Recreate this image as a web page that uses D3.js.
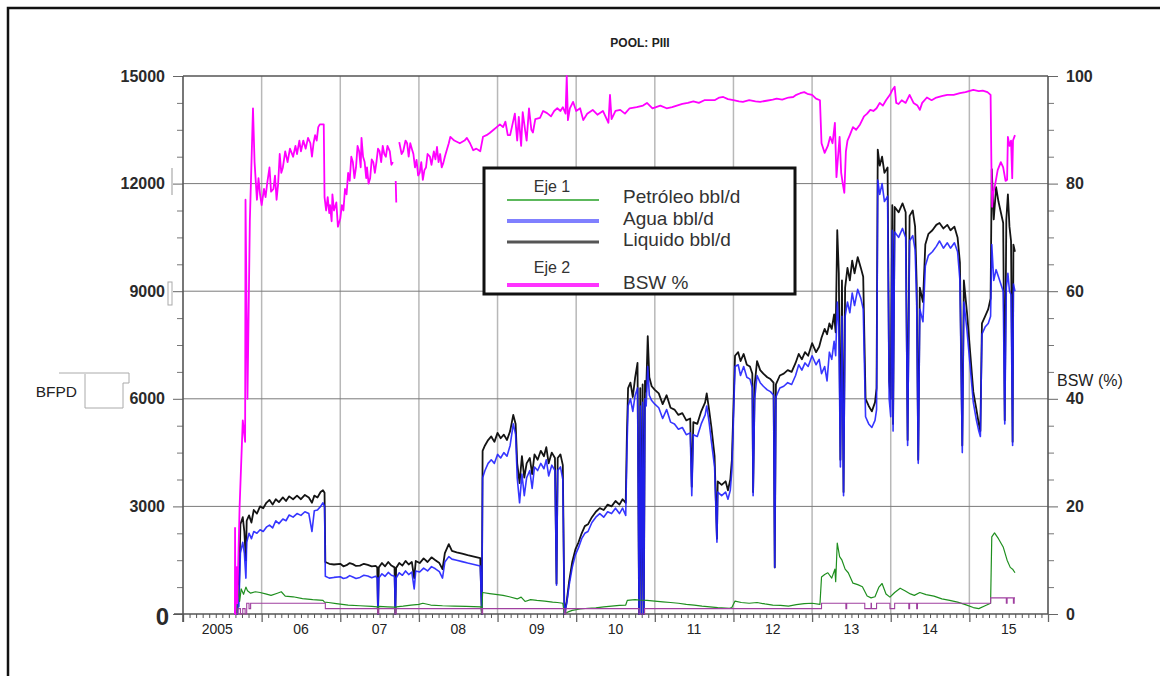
<!DOCTYPE html>
<html lang="es">
<head>
<meta charset="utf-8">
<title>POOL: PIII</title>
<script src="https://cdn.jsdelivr.net/npm/d3@7"></script>
<style>
  html, body { margin: 0; padding: 0; background: #fff; }
  svg { display: block; font-family: "Liberation Sans", Arial, sans-serif; }
</style>
</head>
<body>
<svg id="grafico" width="1160" height="676"></svg>
<script>
// Datos: [año decimal, valor]
var liquido = [[2005.66,0],[2005.69,0],[2005.70,1300],[2005.71,500],[2005.73,2500],[2005.76,2700],[2005.78,2300],[2005.80,1500],[2005.81,2600],[2005.84,2750],[2005.87,2550],[2005.90,2900],[2005.94,2800],[2005.98,3000],[2006.02,2950],[2006.06,3100],[2006.10,3180],[2006.14,3050],[2006.18,3200],[2006.22,3120],[2006.27,3250],[2006.31,3150],[2006.35,3280],[2006.40,3200],[2006.45,3300],[2006.50,3200],[2006.55,3320],[2006.60,3250],[2006.64,3100],[2006.67,3300],[2006.71,3250],[2006.75,3400],[2006.78,3450],[2006.80,3380],[2006.81,1450],[2006.86,1400],[2006.92,1380],[2007.00,1400],[2007.04,1330],[2007.08,1360],[2007.12,1420],[2007.16,1390],[2007.20,1340],[2007.25,1350],[2007.30,1400],[2007.35,1370],[2007.40,1330],[2007.45,1340],[2007.47,1300],[2007.48,0],[2007.49,1300],[2007.53,1420],[2007.57,1330],[2007.61,1450],[2007.65,1350],[2007.69,1300],[2007.70,0],[2007.71,1280],[2007.75,1420],[2007.79,1350],[2007.83,1480],[2007.87,1380],[2007.91,1450],[2007.94,1000],[2007.96,1480],[2008.01,1420],[2008.06,1550],[2008.11,1450],[2008.16,1580],[2008.21,1500],[2008.26,1420],[2008.30,1250],[2008.33,1700],[2008.38,1950],[2008.42,1760],[2008.48,1720],[2008.55,1680],[2008.62,1640],[2008.70,1600],[2008.78,1560],[2008.80,0],[2008.81,4550],[2008.84,4700],[2008.88,4850],[2008.92,4950],[2008.96,4800],[2009.00,5050],[2009.04,4900],[2009.08,5000],[2009.12,4850],[2009.16,5100],[2009.20,5550],[2009.23,5300],[2009.25,4200],[2009.28,3650],[2009.31,4400],[2009.34,3800],[2009.37,4200],[2009.41,4350],[2009.44,3900],[2009.47,4450],[2009.51,4300],[2009.55,4550],[2009.59,4400],[2009.62,4650],[2009.65,4200],[2009.69,4500],[2009.73,4350],[2009.75,850],[2009.765,4350],[2009.80,4450],[2009.83,4150],[2009.85,0],[2009.88,350],[2009.91,900],[2009.95,1450],[2009.99,1800],[2010.03,2000],[2010.07,2250],[2010.11,2450],[2010.15,2500],[2010.20,2700],[2010.25,2850],[2010.30,2950],[2010.35,2900],[2010.40,3050],[2010.45,3000],[2010.50,3150],[2010.55,3050],[2010.59,3200],[2010.63,3100],[2010.645,5000],[2010.66,6300],[2010.69,6450],[2010.72,6050],[2010.75,6600],[2010.78,7000],[2010.80,0],[2010.815,6300],[2010.83,0],[2010.845,6400],[2010.86,0],[2010.875,6500],[2010.89,6200],[2010.91,7750],[2010.93,6600],[2010.96,6350],[2011.00,6250],[2011.05,6150],[2011.10,5850],[2011.15,6100],[2011.20,5750],[2011.25,5700],[2011.30,5550],[2011.35,5600],[2011.40,5400],[2011.45,5450],[2011.47,3550],[2011.49,5350],[2011.54,5300],[2011.59,5650],[2011.64,5900],[2011.66,6150],[2011.69,5700],[2011.72,5200],[2011.76,4400],[2011.79,2100],[2011.80,3700],[2011.85,3600],[2011.90,3700],[2011.93,3450],[2011.96,3750],[2011.98,4300],[2012.02,7200],[2012.06,7300],[2012.09,7050],[2012.13,7250],[2012.17,6950],[2012.21,6900],[2012.24,6700],[2012.25,3400],[2012.27,6400],[2012.30,7050],[2012.34,6800],[2012.38,6700],[2012.43,6600],[2012.47,6550],[2012.51,6450],[2012.525,1300],[2012.54,6400],[2012.59,6650],[2012.64,6700],[2012.69,6800],[2012.74,6750],[2012.79,7000],[2012.83,7250],[2012.87,7100],[2012.91,7300],[2012.95,7200],[2013.00,7550],[2013.05,7300],[2013.09,7450],[2013.12,7700],[2013.16,7950],[2013.19,7800],[2013.22,8100],[2013.25,7950],[2013.28,8350],[2013.30,7850],[2013.32,10700],[2013.34,9500],[2013.36,4300],[2013.38,9300],[2013.40,3400],[2013.42,9100],[2013.45,9650],[2013.48,9300],[2013.51,9850],[2013.54,9500],[2013.58,9950],[2013.62,9650],[2013.65,9400],[2013.68,6000],[2013.72,5800],[2013.76,5650],[2013.80,5900],[2013.82,6300],[2013.835,12950],[2013.86,12500],[2013.89,12750],[2013.92,12300],[2013.96,12450],[2013.98,6500],[2014.00,6000],[2014.02,11400],[2014.03,5300],[2014.05,11350],[2014.10,11200],[2014.15,11450],[2014.19,11200],[2014.215,4850],[2014.24,11100],[2014.28,11250],[2014.31,10800],[2014.33,9200],[2014.35,4300],[2014.37,9100],[2014.41,8700],[2014.44,10300],[2014.48,10600],[2014.53,10700],[2014.58,10850],[2014.62,10900],[2014.67,10750],[2014.72,10850],[2014.76,10700],[2014.81,10800],[2014.85,10500],[2014.88,9800],[2014.91,4700],[2014.93,9300],[2014.97,8400],[2015.01,7300],[2015.05,6200],[2015.09,5700],[2015.12,5300],[2015.14,5100],[2015.16,8100],[2015.20,8300],[2015.24,8500],[2015.27,8800],[2015.285,12400],[2015.31,11000],[2015.34,11900],[2015.37,11500],[2015.40,11200],[2015.43,10900],[2015.45,5400],[2015.47,11000],[2015.49,11700],[2015.51,10800],[2015.53,10400],[2015.55,4800],[2015.56,10300],[2015.58,10100]];

var agua = [[2005.66,0],[2005.69,0],[2005.70,500],[2005.71,200],[2005.73,1700],[2005.76,2000],[2005.78,1700],[2005.80,1000],[2005.81,2000],[2005.84,2250],[2005.87,2100],[2005.90,2300],[2005.94,2250],[2005.98,2350],[2006.02,2300],[2006.06,2420],[2006.10,2480],[2006.14,2400],[2006.18,2600],[2006.22,2520],[2006.27,2650],[2006.31,2600],[2006.35,2760],[2006.40,2700],[2006.45,2800],[2006.50,2750],[2006.55,2850],[2006.60,2800],[2006.64,2300],[2006.67,2880],[2006.71,2900],[2006.75,3000],[2006.78,3100],[2006.80,3000],[2006.81,1050],[2006.86,1000],[2006.92,1020],[2007.00,1040],[2007.04,990],[2007.08,1010],[2007.12,1070],[2007.16,1030],[2007.20,990],[2007.25,1020],[2007.30,1080],[2007.35,1060],[2007.40,1010],[2007.45,1050],[2007.47,1000],[2007.48,0],[2007.49,1000],[2007.53,1120],[2007.57,1050],[2007.61,1160],[2007.65,1080],[2007.69,1050],[2007.70,0],[2007.71,1000],[2007.75,1150],[2007.79,1080],[2007.83,1200],[2007.87,1100],[2007.91,1170],[2007.94,700],[2007.96,1200],[2008.01,1170],[2008.06,1280],[2008.11,1200],[2008.16,1320],[2008.21,1260],[2008.26,1180],[2008.30,1000],[2008.33,1450],[2008.38,1600],[2008.42,1530],[2008.48,1500],[2008.55,1460],[2008.62,1420],[2008.70,1380],[2008.78,1340],[2008.80,0],[2008.81,3800],[2008.84,4000],[2008.88,4200],[2008.92,4300],[2008.96,4200],[2009.00,4450],[2009.04,4350],[2009.08,4500],[2009.12,4400],[2009.16,4700],[2009.20,5300],[2009.23,5000],[2009.25,3800],[2009.28,3100],[2009.31,3900],[2009.34,3300],[2009.37,3800],[2009.41,4000],[2009.44,3500],[2009.47,4100],[2009.51,4000],[2009.55,4200],[2009.59,4050],[2009.62,4300],[2009.65,3850],[2009.69,4150],[2009.73,4000],[2009.75,800],[2009.765,4000],[2009.80,4100],[2009.83,3750],[2009.85,0],[2009.88,300],[2009.91,800],[2009.95,1300],[2009.99,1650],[2010.03,1850],[2010.07,2100],[2010.11,2250],[2010.15,2300],[2010.20,2550],[2010.25,2700],[2010.30,2800],[2010.35,2700],[2010.40,2850],[2010.45,2800],[2010.50,2950],[2010.55,2800],[2010.59,2950],[2010.63,2750],[2010.645,4500],[2010.66,5800],[2010.69,6000],[2010.72,5650],[2010.75,6100],[2010.78,6300],[2010.80,0],[2010.815,5800],[2010.83,0],[2010.845,5900],[2010.86,0],[2010.875,6000],[2010.89,5800],[2010.91,6900],[2010.93,6100],[2010.96,5950],[2011.00,5850],[2011.05,5750],[2011.10,5450],[2011.15,5700],[2011.20,5350],[2011.25,5300],[2011.30,5150],[2011.35,5200],[2011.40,5000],[2011.45,5050],[2011.47,3300],[2011.49,5000],[2011.54,4950],[2011.59,5300],[2011.64,5550],[2011.66,5800],[2011.69,5350],[2011.72,4800],[2011.76,4100],[2011.79,2000],[2011.80,3400],[2011.85,3300],[2011.90,3400],[2011.93,3200],[2011.96,3450],[2011.98,4000],[2012.02,6900],[2012.06,6950],[2012.09,6650],[2012.13,6900],[2012.17,6600],[2012.21,6550],[2012.24,6300],[2012.25,3300],[2012.27,6000],[2012.30,6650],[2012.34,6450],[2012.38,6350],[2012.43,6250],[2012.47,6200],[2012.51,6100],[2012.525,1300],[2012.54,6050],[2012.59,6300],[2012.64,6350],[2012.69,6450],[2012.74,6400],[2012.79,6650],[2012.83,6950],[2012.87,6800],[2012.91,7000],[2012.95,6900],[2013.00,7200],[2013.05,6950],[2013.09,7100],[2013.12,6700],[2013.16,6900],[2013.19,6500],[2013.22,7300],[2013.25,7100],[2013.28,7600],[2013.30,7200],[2013.32,8700],[2013.34,8000],[2013.36,4100],[2013.38,8300],[2013.40,3300],[2013.42,8300],[2013.45,8700],[2013.48,8400],[2013.51,8950],[2013.54,8600],[2013.58,9050],[2013.62,8800],[2013.65,8500],[2013.68,5500],[2013.72,5300],[2013.76,5200],[2013.80,5400],[2013.82,5700],[2013.835,12100],[2013.86,11700],[2013.89,12000],[2013.92,11500],[2013.96,11650],[2013.98,6000],[2014.00,5500],[2014.02,10700],[2014.03,5100],[2014.05,10650],[2014.10,10500],[2014.15,10750],[2014.19,10500],[2014.215,4700],[2014.24,10400],[2014.28,10550],[2014.31,10150],[2014.33,8700],[2014.35,4200],[2014.37,8500],[2014.41,8150],[2014.44,9700],[2014.48,10000],[2014.53,10100],[2014.58,10250],[2014.62,10400],[2014.67,10200],[2014.72,10350],[2014.76,10200],[2014.81,10350],[2014.85,10100],[2014.88,9300],[2014.91,4500],[2014.93,8700],[2014.97,7900],[2015.01,6900],[2015.05,5900],[2015.09,5400],[2015.12,5100],[2015.14,4950],[2015.16,7800],[2015.20,8000],[2015.24,8100],[2015.27,8300],[2015.285,10300],[2015.31,9300],[2015.34,9600],[2015.37,9400],[2015.40,9200],[2015.43,9000],[2015.45,5300],[2015.47,9100],[2015.49,9500],[2015.51,9000],[2015.53,8900],[2015.55,4700],[2015.56,9200],[2015.58,9000]];

var petroleo = [[2005.66,0],[2005.68,0],[2005.70,800],[2005.72,350],[2005.74,700],[2005.77,550],[2005.80,750],[2005.82,650],[2005.86,580],[2005.92,620],[2005.98,600],[2006.05,560],[2006.12,520],[2006.20,580],[2006.25,620],[2006.30,500],[2006.40,480],[2006.52,430],[2006.65,400],[2006.78,380],[2006.80,330],[2006.85,320],[2006.95,290],[2007.10,250],[2007.25,230],[2007.40,210],[2007.47,200],[2007.48,0],[2007.49,210],[2007.60,200],[2007.69,190],[2007.70,0],[2007.71,200],[2007.80,220],[2007.90,250],[2008.00,270],[2008.05,300],[2008.15,250],[2008.30,230],[2008.45,220],[2008.60,210],[2008.79,200],[2008.80,0],[2008.81,600],[2008.90,570],[2009.00,540],[2009.07,520],[2009.15,480],[2009.25,420],[2009.30,470],[2009.35,350],[2009.42,400],[2009.50,380],[2009.60,360],[2009.70,330],[2009.76,320],[2009.83,300],[2009.85,0],[2009.90,60],[2009.95,100],[2010.05,140],[2010.15,160],[2010.25,170],[2010.35,200],[2010.45,220],[2010.55,240],[2010.63,250],[2010.65,380],[2010.75,400],[2010.80,390],[2010.90,380],[2011.00,360],[2011.10,340],[2011.20,320],[2011.30,300],[2011.40,270],[2011.50,250],[2011.60,220],[2011.70,200],[2011.80,180],[2011.95,160],[2011.98,180],[2012.02,360],[2012.10,320],[2012.20,300],[2012.30,320],[2012.40,280],[2012.50,250],[2012.60,240],[2012.70,220],[2012.80,260],[2012.90,290],[2013.00,300],[2013.10,270],[2013.12,1030],[2013.16,1100],[2013.20,1150],[2013.25,1000],[2013.29,1250],[2013.30,900],[2013.32,1980],[2013.35,1600],[2013.38,1500],[2013.42,1250],[2013.46,1150],[2013.52,860],[2013.58,820],[2013.64,760],[2013.70,500],[2013.75,450],[2013.80,480],[2013.85,750],[2013.89,850],[2013.94,560],[2013.99,470],[2014.05,600],[2014.12,720],[2014.18,650],[2014.25,560],[2014.30,520],[2014.37,600],[2014.45,540],[2014.55,500],[2014.65,420],[2014.75,380],[2014.85,330],[2014.95,260],[2015.05,180],[2015.12,150],[2015.20,230],[2015.27,300],[2015.285,2150],[2015.32,2260],[2015.37,2100],[2015.43,1870],[2015.48,1500],[2015.52,1300],[2015.55,1250],[2015.58,1150]];

// BSW en % (eje 2); null = hueco en la serie
var bsw = [[2005.66,0],[2005.662,16],[2005.667,0],[2005.68,8.7],[2005.69,2],[2005.72,20],[2005.76,36],[2005.79,32],[2005.795,77],[2005.82,40],[2005.85,73],[2005.89,94],[2005.91,84],[2005.94,77],[2005.96,81],[2005.98,78],[2006.00,76],[2006.03,79],[2006.05,77.5],[2006.07,80],[2006.10,83],[2006.12,78.5],[2006.15,79],[2006.17,81.5],[2006.19,77],[2006.21,80],[2006.23,85.5],[2006.25,82],[2006.27,83],[2006.30,86],[2006.33,84],[2006.36,86.5],[2006.40,85],[2006.43,87],[2006.45,85.5],[2006.48,88],[2006.50,86],[2006.53,88],[2006.56,86.5],[2006.59,88.5],[2006.62,87.5],[2006.64,85],[2006.66,87.5],[2006.68,89],[2006.70,88],[2006.72,90.5],[2006.74,91],[2006.79,91],[2006.80,77.5],[2006.82,75],[2006.84,77.5],[2006.86,74.5],[2006.87,76],[2006.89,73],[2006.90,78],[2006.92,75],[2006.95,76.5],[2006.97,72],[2007.00,73.5],[2007.02,76],[2007.04,75],[2007.06,79],[2007.08,78],[2007.10,82],[2007.12,80.5],[2007.14,85],[2007.16,84],[2007.18,81],[2007.20,83],[2007.22,87],[2007.24,86],[2007.26,83],[2007.27,88.5],[2007.29,85],[2007.31,84],[2007.33,81],[2007.34,83],[2007.36,80],[2007.38,81],[2007.40,84.5],[2007.42,84],[2007.44,82],[2007.46,84],[2007.48,86.5],[2007.50,86],[2007.52,84],[2007.54,87],[2007.56,85.5],[2007.58,85],[2007.60,87],[2007.63,86],[2007.65,83.5],[2007.67,84],[2007.69,null],[2007.705,80.5],[2007.712,76.5],[2007.72,null],[2007.75,87.7],[2007.78,85.5],[2007.80,86],[2007.83,88],[2007.85,87.5],[2007.87,85],[2007.89,87.5],[2007.91,86.5],[2007.93,85.5],[2007.95,83],[2007.97,84.4],[2007.99,81.5],[2008.01,82],[2008.03,84],[2008.05,80.7],[2008.07,82.5],[2008.09,83],[2008.11,85.5],[2008.14,85],[2008.16,83.5],[2008.19,86],[2008.21,84.5],[2008.23,86.8],[2008.25,84],[2008.27,85.5],[2008.29,83],[2008.31,83.8],[2008.33,85],[2008.35,86],[2008.38,87.5],[2008.40,88.7],[2008.45,88],[2008.52,87.5],[2008.58,88],[2008.61,88.5],[2008.65,87.5],[2008.69,86.2],[2008.73,86.5],[2008.78,86],[2008.815,88.7],[2008.86,89],[2008.90,89.4],[2008.95,90],[2008.99,90.5],[2009.03,91],[2009.07,90.5],[2009.10,91.5],[2009.13,89],[2009.16,89],[2009.19,91],[2009.22,93],[2009.25,88],[2009.27,92.4],[2009.30,87],[2009.32,93.3],[2009.35,90],[2009.37,88],[2009.40,94],[2009.43,90],[2009.45,89.5],[2009.48,92],[2009.54,92.2],[2009.58,93.5],[2009.63,93.1],[2009.68,92.5],[2009.72,93.5],[2009.76,94],[2009.80,93.5],[2009.83,94.2],[2009.865,93],[2009.88,100],[2009.895,91.8],[2009.92,94],[2009.96,95.2],[2010.00,93.5],[2010.05,94],[2010.09,91.8],[2010.14,93],[2010.21,93.7],[2010.27,92.8],[2010.34,93.5],[2010.41,91.3],[2010.43,96.5],[2010.45,92],[2010.50,93.5],[2010.56,93.7],[2010.62,93],[2010.68,94],[2010.77,94.2],[2010.85,94.5],[2010.90,95],[2010.97,94],[2011.07,94.5],[2011.15,94],[2011.22,94.2],[2011.28,94.5],[2011.35,94.8],[2011.42,95],[2011.49,95.3],[2011.56,95],[2011.63,95.5],[2011.70,95.5],[2011.76,95.5],[2011.82,96],[2011.87,96.1],[2011.93,95.7],[2012.00,95.5],[2012.07,95.3],[2012.12,95.2],[2012.20,95.5],[2012.28,95.3],[2012.34,95.2],[2012.42,95.4],[2012.50,95.6],[2012.55,95.8],[2012.62,95.6],[2012.70,96],[2012.76,96.1],[2012.80,96.5],[2012.85,96.8],[2012.90,97],[2012.94,96.7],[2013.00,96.5],[2013.05,95.8],[2013.10,95.5],[2013.12,87.5],[2013.16,85.7],[2013.20,87],[2013.23,88.7],[2013.26,87.5],[2013.29,91.3],[2013.31,81.2],[2013.33,85],[2013.35,88.7],[2013.37,82],[2013.39,80],[2013.41,78.3],[2013.43,86],[2013.45,88],[2013.48,89],[2013.52,90.5],[2013.56,90],[2013.61,91],[2013.66,92.5],[2013.70,93],[2013.74,93.7],[2013.78,93.5],[2013.82,94],[2013.86,95],[2013.90,94.5],[2013.94,95.5],[2013.99,96.5],[2014.02,97.4],[2014.05,98],[2014.07,95],[2014.10,94.8],[2014.14,95.5],[2014.19,95],[2014.24,96.5],[2014.29,95],[2014.34,94.5],[2014.37,93.7],[2014.40,95],[2014.46,96],[2014.52,95.5],[2014.58,96],[2014.66,96.3],[2014.72,96.5],[2014.80,96.5],[2014.88,96.8],[2014.95,97],[2015.05,97.4],[2015.12,97.2],[2015.17,97.3],[2015.23,97],[2015.27,96.5],[2015.28,83.8],[2015.29,75.7],[2015.30,78],[2015.33,80],[2015.36,82.5],[2015.40,84],[2015.43,83],[2015.46,80.5],[2015.48,80.7],[2015.49,88.7],[2015.51,87],[2015.53,88],[2015.545,81],[2015.555,88],[2015.58,89]];

// Linea escalonada morada (pozos activos, eje 2)
var pozos = [[2005.66,0],[2005.70,1],[2005.73,0],[2005.76,1],[2005.79,0],[2005.81,2],[2005.84,1],[2005.86,2],[2006.81,1],[2007.475,0],[2007.49,1],[2007.695,0],[2007.71,1],[2008.80,0],[2008.81,1],[2009.85,0],[2009.87,1],[2010.80,0],[2010.87,1],[2013.12,2],[2013.43,1],[2013.44,2],[2013.67,1],[2013.75,2],[2013.755,1],[2013.82,2],[2013.99,1],[2014.05,2],[2014.23,1],[2014.24,2],[2014.33,1],[2014.34,2],[2015.27,3],[2015.47,2],[2015.48,3],[2015.56,2],[2015.57,3],[2015.58,3]];

var ticksIzq = [0, 3000, 6000, 9000, 12000, 15000];
var ticksDer = [0, 20, 40, 60, 80, 100];
var anios = [2005, 2006, 2007, 2008, 2009, 2010, 2011, 2012, 2013, 2014, 2015];
var etiquetasAnios = ["2005", "06", "07", "08", "09", "10", "11", "12", "13", "14", "15"];

var svg = d3.select("#grafico");

// Escalas
var x = d3.scaleLinear().domain([2005, 2016]).range([183, 1048]);
var yIzq = d3.scaleLinear().domain([0, 15000]).range([614, 76]);
var yDer = d3.scaleLinear().domain([0, 100]).range([614, 76]);

// Marco de la figura
svg.append("path")
    .attr("d", "M8,676 L8,8 L1160,8")
    .style("fill", "none")
    .style("stroke", "#111")
    .style("stroke-width", 2.5);

// Titulo
svg.append("text")
    .attr("x", 640).attr("y", 47)
    .attr("text-anchor", "middle")
    .style("font-size", "12px").style("font-weight", "bold")
    .style("fill", "#222")
    .text("POOL: PIII");

// Rejilla vertical (limites de año)
svg.selectAll(".rejillaV")
    .data(d3.range(2006, 2016))
    .join("line")
    .attr("x1", d => x(d)).attr("x2", d => x(d))
    .attr("y1", yIzq(15000)).attr("y2", yIzq(0))
    .style("stroke", "#b8b8b8")
    .style("stroke-width", 1.5);

// Rejilla horizontal
svg.selectAll(".rejillaH")
    .data(ticksIzq.slice(1))
    .join("line")
    .attr("x1", x(2005)).attr("x2", x(2016))
    .attr("y1", d => yIzq(d)).attr("y2", d => yIzq(d))
    .style("stroke", d => d === 15000 ? "#555" : "#7a7a7a")
    .style("stroke-width", d => d === 15000 ? 1.5 : 1);

// Eje izquierdo
var gIzq = svg.append("g")
    .attr("transform", "translate(" + x(2005) + ",0)")
    .call(d3.axisLeft(yIzq).tickValues(ticksIzq).tickSize(10).tickPadding(8).tickFormat(d3.format("d")));
gIzq.select(".domain").remove();
gIzq.selectAll(".tick line").style("stroke", "#666");
gIzq.selectAll(".tick text")
    .style("font-family", "'Liberation Sans', Arial, sans-serif")
    .style("font-size", "16px").style("font-weight", "bold")
    .style("fill", "#2a2a2a");
gIzq.selectAll(".tick text").filter(d => d === 0)
    .style("font-size", "24px")
    .attr("x", -14).attr("dy", "0.45em");

svg.append("g")
    .attr("transform", "translate(" + x(2005) + ",0)")
    .call(d3.axisLeft(yIzq).tickValues(d3.range(750, 15000, 750).filter(d => d % 3000 !== 0)).tickSize(6).tickFormat(""))
    .call(g => g.select(".domain").remove())
    .call(g => g.selectAll(".tick line").style("stroke", "#777"));

// Eje derecho
var gDer = svg.append("g")
    .attr("transform", "translate(" + x(2016) + ",0)")
    .call(d3.axisRight(yDer).tickValues(ticksDer).tickSize(10).tickPadding(8).tickFormat(d3.format("d")));
gDer.select(".domain").remove();
gDer.selectAll(".tick line").style("stroke", "#666");
gDer.selectAll(".tick text")
    .style("font-family", "'Liberation Sans', Arial, sans-serif")
    .style("font-size", "16px").style("font-weight", "bold")
    .style("fill", "#2a2a2a");

svg.append("g")
    .attr("transform", "translate(" + x(2016) + ",0)")
    .call(d3.axisRight(yDer).tickValues(d3.range(5, 100, 5).filter(d => d % 20 !== 0)).tickSize(6).tickFormat(""))
    .call(g => g.select(".domain").remove())
    .call(g => g.selectAll(".tick line").style("stroke", "#777"));

// Eje inferior: meses y años
svg.append("g")
    .attr("transform", "translate(0," + yIzq(0) + ")")
    .call(d3.axisBottom(x).tickValues(d3.range(0, 132).map(m => 2005 + m / 12).filter((d, i) => i % 12 !== 0)).tickSize(4).tickFormat(""))
    .call(g => g.select(".domain").remove())
    .call(g => g.selectAll(".tick line").style("stroke", "#555"));

svg.append("g")
    .attr("transform", "translate(0," + yIzq(0) + ")")
    .call(d3.axisBottom(x).tickValues(d3.range(2005, 2017)).tickSize(8).tickFormat(""))
    .call(g => g.select(".domain").remove())
    .call(g => g.selectAll(".tick line").style("stroke", "#666").style("stroke-width", 1.3));

svg.selectAll(".anio")
    .data(anios)
    .join("text")
    .attr("x", (d, i) => x(d + 0.5) - (i === 0 ? 5 : 0))
    .attr("y", 634)
    .attr("text-anchor", "middle")
    .style("font-size", "14px")
    .style("fill", "#222")
    .text((d, i) => etiquetasAnios[i]);

// Lineas de ejes
svg.append("line").attr("x1", x(2005)).attr("x2", x(2005)).attr("y1", yIzq(15000)).attr("y2", yIzq(0) + 8)
    .style("stroke", "#555").style("stroke-width", 1.6);
svg.append("line").attr("x1", x(2016)).attr("x2", x(2016)).attr("y1", yIzq(15000)).attr("y2", yIzq(0))
    .style("stroke", "#555").style("stroke-width", 1.6);
svg.append("line").attr("x1", 174).attr("x2", x(2016)).attr("y1", yIzq(0)).attr("y2", yIzq(0))
    .style("stroke", "#555").style("stroke-width", 1.6);

// Titulos de ejes
svg.append("text").attr("x", 77).attr("y", 397).attr("text-anchor", "end")
    .style("font-size", "15.5px").style("fill", "#222").text("BFPD");
svg.append("text").attr("x", 1057).attr("y", 386)
    .style("font-size", "16px").style("fill", "#222").text("BSW (%)");

// Marcas sueltas junto a las etiquetas
svg.append("path")
    .attr("d", "M59,373 L129,373 L129,383 L123,383 L123,408 L85,408 L85,374")
    .style("fill", "none").style("stroke", "#aaa").style("stroke-width", 1);
svg.append("line").attr("x1", 172).attr("x2", 172).attr("y1", 168).attr("y2", 195)
    .style("stroke", "#999").style("stroke-width", 1);
svg.append("rect").attr("x", 168).attr("y", 282).attr("width", 4).attr("height", 23)
    .style("fill", "none").style("stroke", "#aaa").style("stroke-width", 1);

// Series
var lineaIzq = d3.line().x(d => x(d[0])).y(d => yIzq(d[1]));
var lineaDer = d3.line().defined(d => d[1] !== null).x(d => x(d[0])).y(d => yDer(d[1]));

svg.append("path").datum(liquido).attr("d", lineaIzq)
    .style("fill", "none").style("stroke", "#141414").style("stroke-width", 1.8).style("stroke-linejoin", "round");
svg.append("path").datum(agua).attr("d", lineaIzq)
    .style("fill", "none").style("stroke", "#2020ff").style("stroke-width", 1.6).style("opacity", 0.9).style("stroke-linejoin", "round");
svg.append("path").datum(petroleo).attr("d", lineaIzq)
    .style("fill", "none").style("stroke", "#1f8f1f").style("stroke-width", 1.2).style("stroke-linejoin", "round");
svg.append("path").datum(pozos)
    .attr("d", d3.line().curve(d3.curveStepAfter).x(d => x(d[0])).y(d => yDer(d[1])))
    .style("fill", "none").style("stroke", "#a040a0").style("stroke-width", 1.1);
svg.append("path").datum(bsw).attr("d", lineaDer)
    .style("fill", "none").style("stroke", "#ff00ff").style("stroke-width", 1.8).style("stroke-linejoin", "round");

// Leyenda
var leyenda = svg.append("g");
leyenda.append("rect")
    .attr("x", 484).attr("y", 168).attr("width", 311).attr("height", 126)
    .style("fill", "#fff").style("stroke", "#111").style("stroke-width", 3);

var itemsLeyenda = [
    { nombre: "Petróleo bbl/d", color: "#5cb85c", ancho: 2, y: 200, ty: 203 },
    { nombre: "Agua bbl/d", color: "#8080ff", ancho: 4, y: 221, ty: 224.5 },
    { nombre: "Liquido bbl/d", color: "#555", ancho: 3, y: 242, ty: 246 },
    { nombre: "BSW %", color: "#ff33ff", ancho: 4, y: 285, ty: 289 }
];
leyenda.selectAll(".lin")
    .data(itemsLeyenda)
    .join("line")
    .attr("x1", 507).attr("x2", 599)
    .attr("y1", d => d.y).attr("y2", d => d.y)
    .style("stroke", d => d.color)
    .style("stroke-width", d => d.ancho);
leyenda.selectAll(".txt")
    .data(itemsLeyenda)
    .join("text")
    .attr("x", 623).attr("y", d => d.ty)
    .style("font-size", "19px")
    .style("fill", "#333")
    .text(d => d.nombre);
leyenda.append("text").attr("x", 552).attr("y", 192).attr("text-anchor", "middle")
    .style("font-size", "16px").style("fill", "#333").text("Eje 1");
leyenda.append("text").attr("x", 552).attr("y", 273).attr("text-anchor", "middle")
    .style("font-size", "16px").style("fill", "#333").text("Eje 2");
</script>
</body>
</html>
